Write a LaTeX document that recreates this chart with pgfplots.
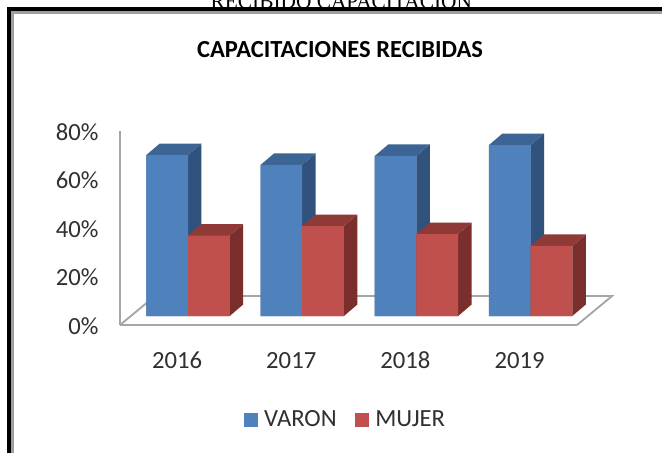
\documentclass[border=0pt]{standalone}
\usepackage{pgfplots}
\pgfplotsset{compat=1.18}
\usepackage{fontspec}
\setmainfont{Carlito}
\newfontfamily\serifhead{Liberation Serif}
\definecolor{bluefront}{HTML}{4F81BD}
\definecolor{blueside}{HTML}{30527C}
\definecolor{bluetop}{HTML}{3C6494}
\definecolor{redfront}{HTML}{C0504D}
\definecolor{redside}{HTML}{7A2F2D}
\definecolor{redtop}{HTML}{903A37}
\definecolor{wallgray}{HTML}{A6A6A6}
\definecolor{txt}{HTML}{303030}
\pgfplotsset{
  sq/.style={legend image code/.code={\fill[##1] (0pt,-5pt) rectangle (10pt,5pt);}},
  face/.style={fill=#1,draw=none,forget plot,mark=none}
}
\begin{document}
\begin{tikzpicture}[x=1pt,y=1pt]
\path[use as bounding box] (0,0) rectangle (496.5,-339.75);
\fill[white] (0,0) rectangle (496.5,-339.75);
\begin{scope}
\clip (0,0) rectangle (496.5,-339.75);
\node[font=\serifhead\fontsize{16}{16}\selectfont,anchor=center] at (256,-1) {RECIBIDO CAPACITACION};
\end{scope}
\fill[gray!75] (8,-339.75) rectangle (10.2,-8.2);
\fill[gray!75] (8,-8.2) rectangle (496.5,-10.2);
\fill[black] (5,-339.75) rectangle (8,-5.2);
\fill[black] (5,-5.2) rectangle (496.5,-8.2);
\begin{axis}[
  at={(90pt,-243.75pt)},anchor=south west,
  scale only axis,width=342.75pt,height=145.5pt,
  xmin=-0.5954,xmax=3.406,ymin=-3.7,ymax=76.3,
  clip=false,
  axis y line*=left,axis x line*=bottom,
  y axis line style={-,wallgray,line width=1.4pt},
  x axis line style={-,wallgray,line width=1.6pt},
  major tick length=0pt,
  xtick={-0.096,0.904,1.904,2.904},
  xticklabels={2016,2017,2018,2019},
  ytick={-3.7,16.3,36.3,56.3,76.3},
  yticklabels={0\%,20\%,40\%,60\%,80\%},
  tick label style={font=\fontsize{18.5}{18.5}\selectfont,text=txt,text height=12.5pt,text depth=0pt},
  xticklabel style={yshift=-16.5pt},
  yticklabel style={xshift=-12.5pt,yshift=-0.8pt},
  legend style={at={(0.4945,-0.489)},anchor=center,draw=none,fill=none,
    legend columns=2,font=\fontsize{18.5}{18.5}\selectfont,text=txt,
    /tikz/column 1/.style={column sep=3pt},
    /tikz/column 2/.style={column sep=12pt},
    /tikz/column 3/.style={column sep=3pt}},
]
% floor
\addplot[wallgray,line width=1.4pt,forget plot] coordinates {(-0.5954,-3.7) (-0.289,8.25) (3.713,8.25) (3.406,-3.7)};
% VARON side and top faces
\addplot[face=blueside] coordinates {(0,0) (0.118,4.74) (0.118,71.14) (0,66.4)} \closedcycle;
\addplot[face=bluetop] coordinates {(-0.365,66.4) (-0.247,71.14) (0.118,71.14) (0,66.4)} \closedcycle;
\addplot[face=blueside] coordinates {(1,0) (1.118,4.74) (1.118,67.04) (1,62.3)} \closedcycle;
\addplot[face=bluetop] coordinates {(0.635,62.3) (0.753,67.04) (1.118,67.04) (1,62.3)} \closedcycle;
\addplot[face=blueside] coordinates {(2,0) (2.118,4.74) (2.118,70.74) (2,66.0)} \closedcycle;
\addplot[face=bluetop] coordinates {(1.635,66.0) (1.753,70.74) (2.118,70.74) (2,66.0)} \closedcycle;
\addplot[face=blueside] coordinates {(3,0) (3.118,4.74) (3.118,75.24) (3,70.5)} \closedcycle;
\addplot[face=bluetop] coordinates {(2.635,70.5) (2.753,75.24) (3.118,75.24) (3,70.5)} \closedcycle;
% VARON front
\addplot[ybar,bar width=31.2pt,bar shift=-15.6pt,fill=bluefront,draw=none,area legend,sq] coordinates {(0,66.4) (1,62.3) (2,66.0) (3,70.5)};
\addlegendentry{VARON}
% MUJER side and top faces
\addplot[face=redside] coordinates {(0.365,0) (0.483,4.74) (0.483,37.94) (0.365,33.2)} \closedcycle;
\addplot[face=redtop] coordinates {(0,33.2) (0.118,37.94) (0.483,37.94) (0.365,33.2)} \closedcycle;
\addplot[face=redside] coordinates {(1.365,0) (1.483,4.74) (1.483,41.84) (1.365,37.1)} \closedcycle;
\addplot[face=redtop] coordinates {(1,37.1) (1.118,41.84) (1.483,41.84) (1.365,37.1)} \closedcycle;
\addplot[face=redside] coordinates {(2.365,0) (2.483,4.74) (2.483,38.54) (2.365,33.8)} \closedcycle;
\addplot[face=redtop] coordinates {(2,33.8) (2.118,38.54) (2.483,38.54) (2.365,33.8)} \closedcycle;
\addplot[face=redside] coordinates {(3.365,0) (3.483,4.74) (3.483,33.64) (3.365,28.9)} \closedcycle;
\addplot[face=redtop] coordinates {(3,28.9) (3.118,33.64) (3.483,33.64) (3.365,28.9)} \closedcycle;
% MUJER front
\addplot[ybar,bar width=31.2pt,bar shift=15.6pt,fill=redfront,draw=none,area legend,sq] coordinates {(0,33.2) (1,37.1) (2,33.8) (3,28.9)};
\addlegendentry{MUJER}
\end{axis}
\node[font=\bfseries\fontsize{18.4}{18.4}\selectfont,text=black,anchor=center] at (255,-37.5) {CAPACITACIONES RECIBIDAS};
\end{tikzpicture}
\end{document}
